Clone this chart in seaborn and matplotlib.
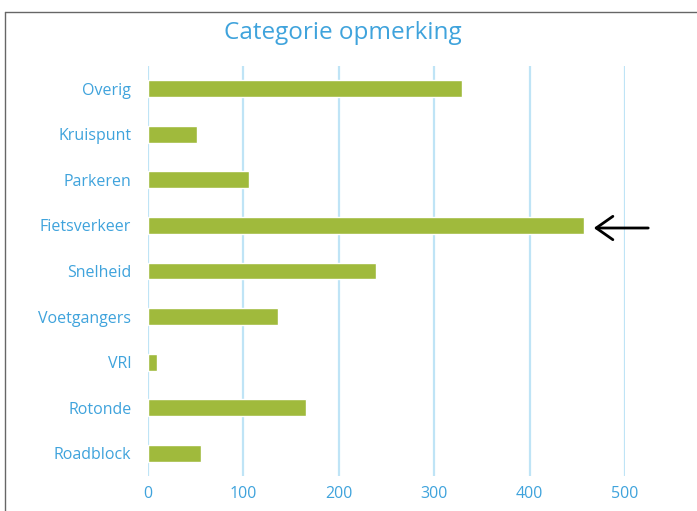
import matplotlib
matplotlib.use("Agg")
import matplotlib.pyplot as plt
import seaborn as sns
import pandas as pd
from matplotlib.lines import Line2D

categories = ["Overig", "Kruispunt", "Parkeren", "Fietsverkeer", "Snelheid",
              "Voetgangers", "VRI", "Rotonde", "Roadblock"]
values = [329, 51, 106, 457, 239, 136, 9, 166, 56]
xticks = [0, 100, 200, 300, 400, 500]

df = pd.DataFrame({"categorie": categories, "aantal": values})

sns.set_theme(style="white")
plt.rcParams["font.family"] = ["Open Sans", "DejaVu Sans"]

blue = "#3FA3DC"
fig = plt.figure(figsize=(6.97, 5.11), dpi=100)
ax = fig.add_axes([148/697, 1-476/511, (625-148)/697, (476-66)/511])

sns.barplot(data=df, x="aantal", y="categorie", orient="h", color="#A0BA3C",
            width=0.37, saturation=1, ax=ax, zorder=3)

ax.set_xlim(0, 500)
ax.set_ylim(8.5, -0.5)
ax.set_xticks(xticks)
ax.set_xticklabels([str(t) for t in xticks])
for t in xticks:
    ax.axvline(t, color="#BFE4F6", lw=1.6, zorder=1, snap=True)
for s in ax.spines.values():
    s.set_visible(False)
ax.tick_params(axis="both", length=0, labelsize=11.5, labelcolor=blue)
ax.tick_params(axis="y", pad=12)
ax.tick_params(axis="x", pad=7)
ax.set_xlabel("")
ax.set_ylabel("")
ax.grid(False)

fig.text(343/697, 1-33/511, "Categorie opmerking", ha="center", va="center",
         fontsize=17.5, color=blue)

# outer chart frame (left and top edges visible)
fig.add_artist(Line2D([5/697, 5/697], [0, 1-12/511], transform=fig.transFigure,
                      color="#666666", lw=1.0))
fig.add_artist(Line2D([5/697, 1], [1-12/511, 1-12/511], transform=fig.transFigure,
                      color="#666666", lw=1.0))

# arrow pointing at Fietsverkeer
ax.annotate("", xy=(591/697, 1-228/511), xytext=(651/697, 1-228/511),
            xycoords="figure fraction", textcoords="figure fraction",
            arrowprops=dict(arrowstyle="->,head_length=0.5,head_width=0.35",
                            color="black", lw=2, mutation_scale=24))

fig.savefig("out.png", dpi=100)
